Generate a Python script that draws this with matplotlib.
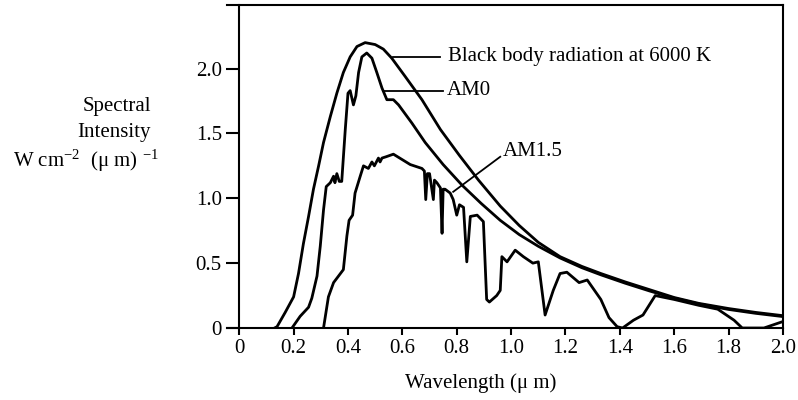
import numpy as np
import matplotlib
matplotlib.use('Agg')
import matplotlib.pyplot as plt

plt.rcParams['font.family'] = ['Liberation Serif', 'DejaVu Serif']
plt.rcParams['mathtext.default'] = 'regular'

# black body radiation at 6000 K
bb_wl = [0.13, 0.139, 0.169, 0.20, 0.218, 0.236, 0.255, 0.273, 0.292, 0.31,
         0.335, 0.359, 0.383, 0.408, 0.433, 0.463, 0.50, 0.53, 0.561, 0.61,
         0.672, 0.74, 0.81, 0.88, 0.96, 1.03, 1.10, 1.18, 1.26, 1.33, 1.42,
         1.51, 1.60, 1.69, 1.80, 1.90, 2.00]
bb_int = [0.0, 0.01, 0.12, 0.24, 0.42, 0.65, 0.86, 1.07, 1.25, 1.43,
          1.63, 1.81, 1.97, 2.09, 2.17, 2.20, 2.185, 2.15, 2.08, 1.94,
          1.76, 1.53, 1.33, 1.14, 0.94, 0.79, 0.66, 0.55, 0.475, 0.42, 0.355,
          0.295, 0.235, 0.19, 0.15, 0.12, 0.095]

# AM0
am0_wl = [0.194, 0.224, 0.255, 0.267, 0.286, 0.298, 0.31, 0.32, 0.335, 0.347,
          0.352, 0.359, 0.368, 0.377, 0.39, 0.40, 0.408, 0.42, 0.429, 0.439,
          0.451, 0.469, 0.488, 0.506, 0.525, 0.543, 0.567, 0.586, 0.635, 0.684,
          0.75, 0.82, 0.89, 0.96, 1.03, 1.10, 1.18, 1.26, 1.33, 1.42, 1.51,
          1.60, 1.69, 1.80, 1.90, 2.00]
am0_int = [0.0, 0.09, 0.16, 0.23, 0.40, 0.63, 0.91, 1.09, 1.12, 1.17,
           1.12, 1.19, 1.13, 1.13, 1.53, 1.81, 1.83, 1.72, 1.79, 1.97,
           2.09, 2.12, 2.08, 1.97, 1.85, 1.76, 1.76, 1.72, 1.58, 1.43,
           1.26, 1.10, 0.96, 0.83, 0.72, 0.63, 0.54, 0.465, 0.41, 0.345, 0.285,
           0.23, 0.185, 0.143, 0.113, 0.088]

# AM1.5
am15_wl = [0.31, 0.328, 0.347, 0.365, 0.383, 0.396, 0.404, 0.417, 0.426, 0.445,
           0.457, 0.475, 0.488, 0.497, 0.512, 0.518, 0.525, 0.54, 0.567, 0.598,
           0.629, 0.672, 0.681, 0.686, 0.692, 0.70, 0.714, 0.718, 0.727, 0.74,
           0.746, 0.750, 0.757, 0.776, 0.787, 0.80, 0.81, 0.825, 0.837, 0.85,
           0.875, 0.898, 0.91, 0.92, 0.947, 0.96, 0.966, 0.985, 1.015, 1.045,
           1.08, 1.10, 1.125, 1.155, 1.18, 1.205, 1.25, 1.28, 1.33, 1.36, 1.39,
           1.41, 1.45, 1.485, 1.53, 1.60, 1.69, 1.76, 1.82, 1.85, 1.93, 2.00]
am15_int = [0.0, 0.24, 0.35, 0.40, 0.45, 0.71, 0.83, 0.87, 1.04, 1.17,
            1.25, 1.23, 1.28, 1.25, 1.31, 1.28, 1.31, 1.32, 1.34, 1.30,
            1.26, 1.23, 1.21, 0.99, 1.19, 1.19, 0.99, 1.14, 1.12, 1.08,
            0.73, 1.07, 1.07, 1.04, 0.99, 0.87, 0.95, 0.93, 0.51, 0.86,
            0.87, 0.82, 0.22, 0.20, 0.25, 0.29, 0.55, 0.51, 0.60, 0.55,
            0.50, 0.51, 0.10, 0.29, 0.42, 0.43, 0.35, 0.37, 0.22, 0.08, 0.01,
            0.0, 0.06, 0.10, 0.25, 0.22, 0.175, 0.145, 0.06, 0.0, 0.0, 0.05]

x_ticks = [0, 0.2, 0.4, 0.6, 0.8, 1.0, 1.2, 1.4, 1.6, 1.8, 2.0]
x_tick_labels = ['0', '0.2', '0.4', '0.6', '0.8', '1.0', '1.2', '1.4', '1.6', '1.8', '2.0']
y_ticks = [0, 0.5, 1.0, 1.5, 2.0]
y_tick_labels = ['0', '0.5', '1.0', '1.5', '2.0']

fig = plt.figure(figsize=(7.98, 4.0), dpi=100)
ax = fig.add_axes([227 / 798, 72 / 400, 556 / 798, 323 / 400])

ax.plot(bb_wl, bb_int, color='black', lw=2.0, solid_joinstyle='round')
ax.plot(am0_wl, am0_int, color='black', lw=2.0, solid_joinstyle='round')
ax.plot(am15_wl, am15_int, color='black', lw=2.0, solid_joinstyle='round')

ax.set_xlim(-0.045, 2.0)
ax.set_ylim(0, 2.49)
ax.spines['left'].set_position(('data', 0))
for s in ax.spines.values():
    s.set_linewidth(1.5)

ax.set_xticks(x_ticks)
ax.set_xticklabels(x_tick_labels)
ax.set_yticks(y_ticks)
ax.set_yticklabels(y_tick_labels)
ax.tick_params(axis='x', direction='out', length=5, width=1.5, labelsize=15, pad=3)
ax.tick_params(axis='y', direction='out', length=9.5, width=1.5, labelsize=15, pad=3)

# leader lines and labels
ax.plot([0.566, 0.739], [2.09, 2.09], color='black', lw=1.3)
ax.text(0.768, 2.09, 'Black body radiation at 6000 K', fontsize=15,
        ha='left', va='center')
ax.plot([0.53, 0.75], [1.83, 1.83], color='black', lw=1.3)
ax.text(0.765, 1.83, 'AM0', fontsize=15, ha='left', va='center')
ax.plot([0.787, 0.96], [1.05, 1.32], color='black', lw=1.3)
ax.text(0.97, 1.36, 'AM1.5', fontsize=15, ha='left', va='center')

fig.text(481 / 798, 1 - 383 / 400, 'Wavelength (\u03bc m)', fontsize=15,
         ha='center', va='center')
fig.text(117 / 798, 1 - 107 / 400, 'Spectral', fontsize=15, ha='center', va='center')
fig.text(114 / 798, 1 - 133 / 400, 'Intensity', fontsize=15, ha='center', va='center')
fig.text(13 / 798, 1 - 161 / 400, 'W cm$^{-2}$  (\u03bc m) $^{-1}$', fontsize=15,
         ha='left', va='center')

plt.savefig('out.png', dpi=100)
plt.close()
